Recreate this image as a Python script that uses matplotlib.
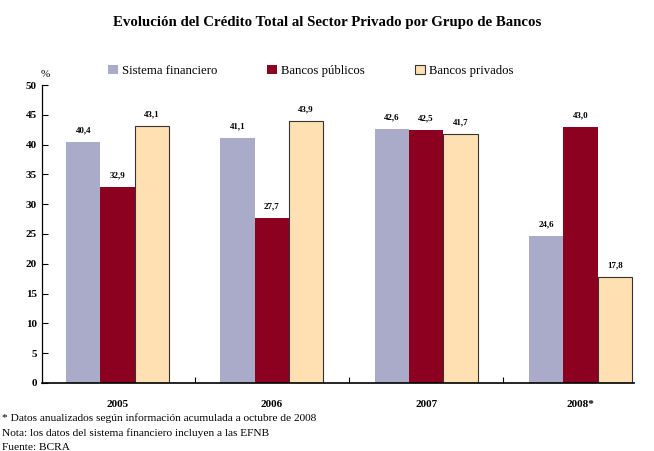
import matplotlib
matplotlib.use("Agg")
import matplotlib.pyplot as plt
import numpy as np

plt.rcParams['font.family'] = ['Liberation Serif', 'DejaVu Serif']

years = ["2005", "2006", "2007", "2008*"]
series_names = ["Sistema financiero", "Bancos públicos", "Bancos privados"]
sistema = [40.4, 41.1, 42.6, 24.6]
publicos = [32.9, 27.7, 42.5, 43.0]
privados = [43.1, 43.9, 41.7, 17.8]

colors = ["#AAABC8", "#8C0020", "#FFE0B2"]
edges = ["none", "none", "#333333"]

fig = plt.figure(figsize=(6.54, 4.51), dpi=100)
ax = fig.add_axes([0.064, 0.151, 0.905, 0.6605])

x = np.arange(len(years))
w = 0.222
for i, (vals, c, e, name) in enumerate(zip([sistema, publicos, privados], colors, edges, series_names)):
    pos = x + (i - 1) * w
    ax.bar(pos, vals, width=w, color=c, edgecolor=e, linewidth=0.8 if e != "none" else 0, label=name)
    for p, v in zip(pos, vals):
        ax.text(p, v + 1.3, f"{v:.1f}".replace(".", ","), ha="center", va="bottom",
                fontsize=6.5, fontweight="bold")

ax.set_ylim(0, 50)
ax.set_xlim(-0.49, 3.345)
ax.set_yticks(range(0, 51, 5))
ax.tick_params(axis="y", direction="in", length=4, labelsize=8, width=0.8)
for lab in ax.get_yticklabels():
    lab.set_fontweight("bold")
ax.set_xticks(x)
ax.set_xticklabels(years, fontsize=8, fontweight="bold")
ax.tick_params(axis="x", length=0, pad=12)
ax.set_xticks([0.5, 1.5, 2.5], minor=True)
ax.tick_params(axis="x", which="minor", direction="in", length=4, width=0.8)
for s in ["top", "right"]:
    ax.spines[s].set_visible(False)
ax.spines["left"].set_linewidth(0.9)
ax.spines["bottom"].set_linewidth(1.2)

ax.text(-0.5, 51.0, "%", fontsize=8, ha="left", va="bottom")

fig.text(0.5, 0.95, "Evolución del Crédito Total al Sector Privado por Grupo de Bancos",
         ha="center", va="center", fontsize=10.7, fontweight="bold")

fig.legend(loc="center", bbox_to_anchor=(0.475, 0.843), ncol=3, frameon=False,
           fontsize=9.2, handlelength=0.8, handleheight=0.8, handletextpad=0.3,
           columnspacing=3.9)

fig.text(0.003, 0.073, "* Datos anualizados según información acumulada a octubre de 2008", fontsize=8.2, va="center")
fig.text(0.003, 0.040, "Nota: los datos del sistema financiero incluyen a las EFNB", fontsize=8.2, va="center")
fig.text(0.003, 0.008, "Fuente: BCRA", fontsize=8.2, va="center")

fig.savefig("out.png", dpi=100)
